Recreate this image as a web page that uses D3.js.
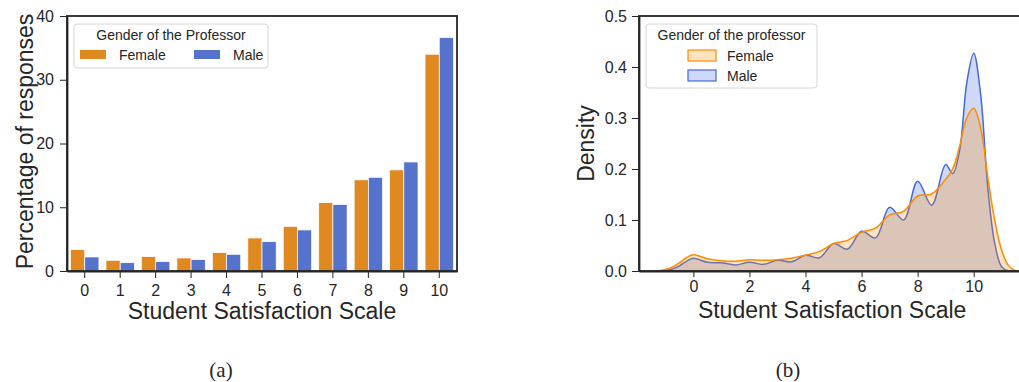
<!DOCTYPE html>
<html>
<head>
<meta charset="utf-8">
<script src="https://cdn.jsdelivr.net/npm/d3@7"></script>
<style>
  body { margin: 0; background: #fff; }
  svg text { font-family: "Liberation Sans", Arial, sans-serif; fill: #262626; }
  .axis path, .axis line { stroke: #262626; }
</style>
</head>
<body>
<div id="chart"></div>
<script>
// bar chart data (a)
var scaleCats = ["0", "1", "2", "3", "4", "5", "6", "7", "8", "9", "10"];
var genders = ["Female", "Male"];
var femalePct = [3.35, 1.68, 2.25, 2.04, 2.88, 5.18, 7.0, 10.73, 14.3, 15.86, 34.0];
var malePct = [2.2, 1.3, 1.47, 1.78, 2.62, 4.6, 6.44, 10.42, 14.7, 17.1, 36.6];
var barTicks = [0, 10, 20, 30, 40];

// density data (b)
var kdeX = [-1.5, -1.25, -1, -0.75, -0.5, -0.25, 0, 0.5, 1, 1.5, 2, 2.5, 3, 3.5, 4, 4.5, 5, 5.5, 6, 6.5,
            7, 7.5, 8, 8.5, 9, 9.25, 9.5, 9.75, 10, 10.25, 10.5, 10.75, 11, 11.25, 11.5];
var femaleDens = [0, 0.0005, 0.003, 0.008, 0.016, 0.026, 0.032, 0.024, 0.020, 0.019, 0.022, 0.021, 0.022, 0.025,
                  0.031, 0.038, 0.054, 0.060, 0.076, 0.084, 0.110, 0.117, 0.147, 0.151, 0.180, 0.200, 0.245,
                  0.300, 0.319, 0.280, 0.185, 0.100, 0.040, 0.010, 0];
var maleDens = [0, 0, 0.001, 0.004, 0.010, 0.019, 0.025, 0.017, 0.016, 0.012, 0.017, 0.013, 0.021, 0.018,
                0.031, 0.026, 0.054, 0.043, 0.078, 0.065, 0.125, 0.100, 0.176, 0.129, 0.209, 0.191, 0.237,
                0.368, 0.427, 0.345, 0.165, 0.054, 0.008, 0, 0];
var kdeXTicks = [0, 2, 4, 6, 8, 10];
var kdeYTicks = [0, 0.1, 0.2, 0.3, 0.4, 0.5];

var barColor = { Female: "#df8920", Male: "#5573cd" };
var lineColor = { Female: "#ff8c00", Male: "#4169e1" };

var svg = d3.select("#chart").append("svg")
        .attr("width", 1019)
        .attr("height", 382);

// ---------- (a) bars ----------
var a = { left: 67, right: 457, top: 16, bottom: 271 };

var x = d3.scaleBand()
        .domain(scaleCats)
        .range([a.left, a.right])
        .paddingInner(0.2)
        .paddingOuter(0.1);

var xSub = d3.scaleBand()
        .domain(genders)
        .range([0, x.bandwidth()]);

var y = d3.scaleLinear()
        .domain([0, 40])
        .range([a.bottom, a.top]);

var barRows = scaleCats.map(function (c, i) {
        return { cat: c, Female: femalePct[i], Male: malePct[i] };
});

var groups = svg.selectAll(".grp")
        .data(barRows)
        .enter().append("g")
        .attr("class", "grp")
        .attr("transform", function (d) { return "translate(" + x(d.cat) + ",0)"; });

groups.selectAll("rect")
        .data(function (d) { return genders.map(function (g) { return { g: g, v: d[g] }; }); })
        .enter().append("rect")
        .attr("x", function (d) { return xSub(d.g); })
        .attr("y", function (d) { return y(d.v); })
        .attr("width", xSub.bandwidth())
        .attr("height", function (d) { return y(0) - y(d.v); })
        .attr("fill", function (d) { return barColor[d.g]; })
        .attr("stroke", "#fff")
        .attr("stroke-width", 0.7);

// frame
svg.append("rect")
        .attr("x", a.left).attr("y", a.top)
        .attr("width", a.right - a.left).attr("height", a.bottom - a.top)
        .attr("fill", "none").attr("stroke", "#262626").attr("stroke-width", 1.8);

svg.append("g")
        .attr("class", "axis")
        .attr("transform", "translate(0," + a.bottom + ")")
        .call(d3.axisBottom(x).tickSize(7).tickPadding(7).tickSizeOuter(0))
        .call(function (g) { g.select(".domain").attr("stroke-width", 1.8); })
        .selectAll("text").style("font-size", "16px").attr("fill", "#262626");

svg.append("g")
        .attr("class", "axis")
        .attr("transform", "translate(" + a.left + ",0)")
        .call(d3.axisLeft(y).tickValues(barTicks).tickSize(7).tickPadding(6).tickSizeOuter(0))
        .call(function (g) { g.select(".domain").attr("stroke-width", 1.8); })
        .selectAll("text").style("font-size", "16px").attr("fill", "#262626");

svg.append("text")
        .attr("x", (a.left + a.right) / 2)
        .attr("y", 318.5)
        .attr("text-anchor", "middle")
        .style("font-size", "23px")
        .text("Student Satisfaction Scale");

svg.append("text")
        .attr("transform", "translate(33," + ((a.top + a.bottom) / 2 - 2) + ") rotate(-90)")
        .attr("text-anchor", "middle")
        .style("font-size", "23px")
        .text("Percentage of responses");

// legend (a)
var legA = svg.append("g").attr("transform", "translate(74,24)");
legA.append("rect")
        .attr("width", 194).attr("height", 44).attr("rx", 3)
        .attr("fill", "#fff").attr("stroke", "#d6d6d6");
legA.append("text")
        .attr("x", 97).attr("y", 16)
        .attr("text-anchor", "middle")
        .style("font-size", "14px")
        .text("Gender of the Professor");
genders.forEach(function (g, i) {
        legA.append("rect")
                .attr("x", 6 + i * 114).attr("y", 26)
                .attr("width", 26).attr("height", 9)
                .attr("fill", barColor[g]);
        legA.append("text")
                .attr("x", 45 + i * 114).attr("y", 36)
                .style("font-size", "14px")
                .text(g);
});

// ---------- (b) density ----------
var b = { left: 639, right: 1025, top: 16, bottom: 271 };

var xk = d3.scaleLinear()
        .domain([-1.94, 11.83])
        .range([b.left, b.right]);

var yk = d3.scaleLinear()
        .domain([0, 0.5])
        .range([b.bottom, b.top]);

var area = d3.area()
        .x(function (d) { return xk(d[0]); })
        .y0(yk(0))
        .y1(function (d) { return yk(d[1]); })
        .curve(d3.curveCatmullRom.alpha(0.5));

var line = d3.line()
        .x(function (d) { return xk(d[0]); })
        .y(function (d) { return yk(d[1]); })
        .curve(d3.curveCatmullRom.alpha(0.5));

var series = [
        { g: "Male", pts: kdeX.map(function (v, i) { return [v, maleDens[i]]; }) },
        { g: "Female", pts: kdeX.map(function (v, i) { return [v, femaleDens[i]]; }) }
];

series.forEach(function (s) {
        svg.append("path")
                .datum(s.pts)
                .attr("d", area)
                .attr("fill", lineColor[s.g])
                .attr("fill-opacity", 0.25);
        svg.append("path")
                .datum(s.pts)
                .attr("d", line)
                .attr("fill", "none")
                .attr("stroke", lineColor[s.g])
                .attr("stroke-width", 1.5);
});

// frame (b)
svg.append("rect")
        .attr("x", b.left).attr("y", b.top)
        .attr("width", b.right - b.left).attr("height", b.bottom - b.top)
        .attr("fill", "none").attr("stroke", "#262626").attr("stroke-width", 1.8);

svg.append("g")
        .attr("class", "axis")
        .attr("transform", "translate(0," + b.bottom + ")")
        .call(d3.axisBottom(xk).tickValues(kdeXTicks).tickFormat(d3.format("d")).tickSize(6).tickPadding(4).tickSizeOuter(0))
        .call(function (g) { g.select(".domain").attr("stroke-width", 1.8); })
        .selectAll("text").style("font-size", "16px").attr("fill", "#262626");

svg.append("g")
        .attr("class", "axis")
        .attr("transform", "translate(" + b.left + ",0)")
        .call(d3.axisLeft(yk).tickValues(kdeYTicks).tickFormat(d3.format(".1f")).tickSize(7).tickPadding(5).tickSizeOuter(0))
        .call(function (g) { g.select(".domain").attr("stroke-width", 1.8); })
        .selectAll("text").style("font-size", "16px").attr("fill", "#262626");

svg.append("text")
        .attr("x", xk(4.95))
        .attr("y", 318)
        .attr("text-anchor", "middle")
        .style("font-size", "23px")
        .text("Student Satisfaction Scale");

svg.append("text")
        .attr("transform", "translate(593.5," + ((b.top + b.bottom) / 2) + ") rotate(-90)")
        .attr("text-anchor", "middle")
        .style("font-size", "23px")
        .text("Density");

// legend (b)
var legB = svg.append("g").attr("transform", "translate(646,24)");
legB.append("rect")
        .attr("width", 171).attr("height", 64).attr("rx", 3)
        .attr("fill", "#fff").attr("stroke", "#d6d6d6");
legB.append("text")
        .attr("x", 85.5).attr("y", 16)
        .attr("text-anchor", "middle")
        .style("font-size", "14px")
        .text("Gender of the professor");
genders.forEach(function (g, i) {
        legB.append("rect")
                .attr("x", 42).attr("y", 26 + i * 20)
                .attr("width", 28).attr("height", 11)
                .attr("fill", lineColor[g]).attr("fill-opacity", 0.25)
                .attr("stroke", lineColor[g]).attr("stroke-width", 1.2);
        legB.append("text")
                .attr("x", 81).attr("y", 37 + i * 20)
                .style("font-size", "14px")
                .text(g);
});

// panel captions
svg.append("text")
        .attr("x", 221).attr("y", 377)
        .attr("text-anchor", "middle")
        .style("font-family", "'Liberation Serif', serif")
        .style("font-size", "21px")
        .text("(a)");

svg.append("text")
        .attr("x", 788).attr("y", 377)
        .attr("text-anchor", "middle")
        .style("font-family", "'Liberation Serif', serif")
        .style("font-size", "21px")
        .text("(b)");
</script>
</body>
</html>
